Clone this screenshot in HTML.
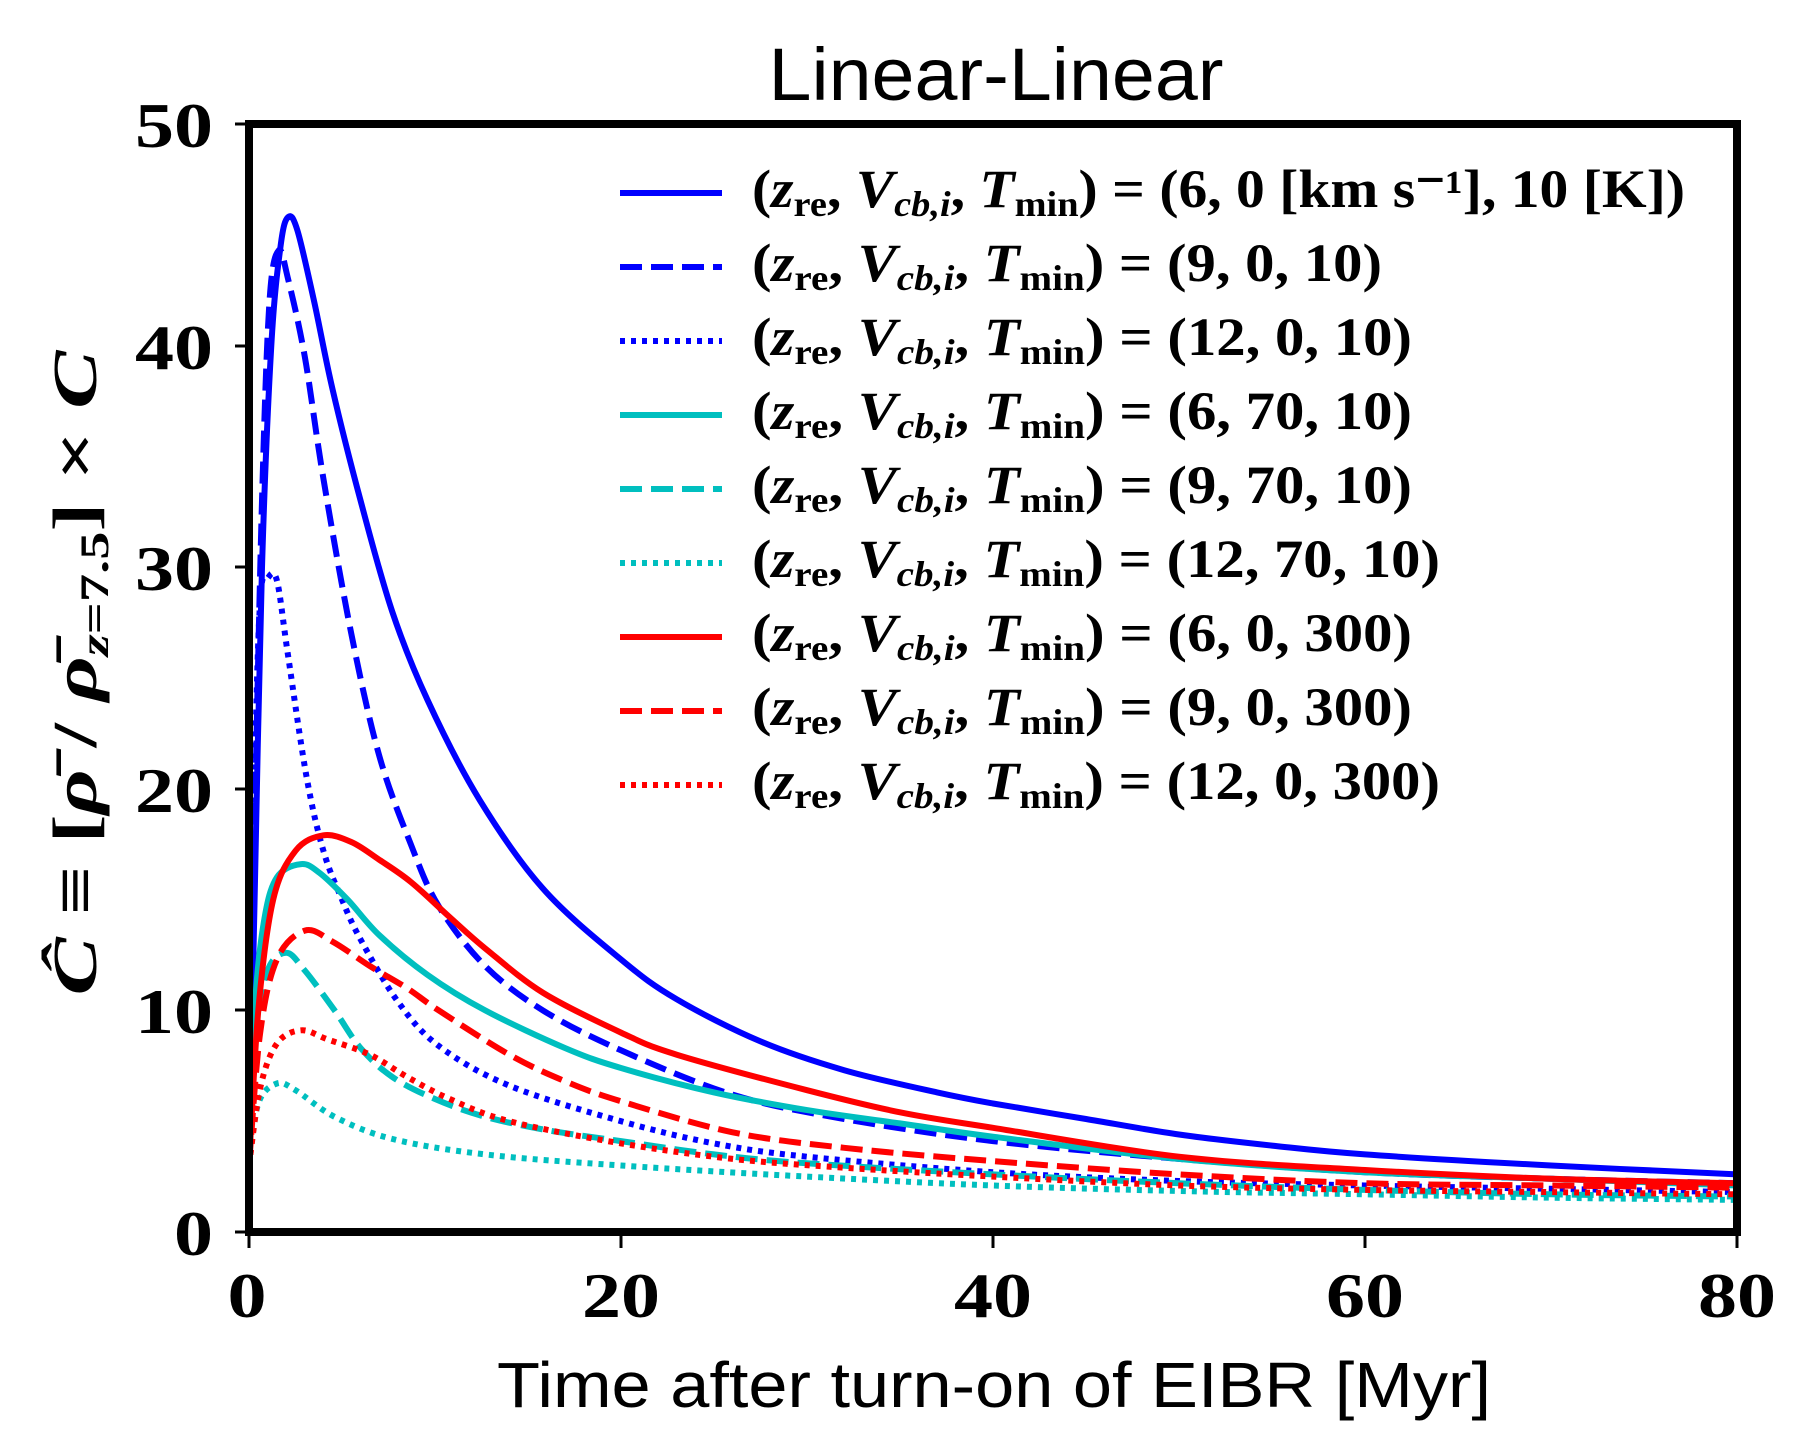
<!DOCTYPE html>
<html><head><meta charset="utf-8">
<style>
html,body{margin:0;padding:0;background:#fff;}
svg{display:block;}
.tk{font-family:"Liberation Serif",serif;font-weight:bold;font-size:64px;}
.lg{font-family:"Liberation Serif",serif;font-size:54px;font-weight:bold;}
.it{font-style:italic;}
</style></head>
<body>
<svg id="s" width="1808" height="1456" viewBox="0 0 1808 1456" xmlns="http://www.w3.org/2000/svg">
<rect width="1808" height="1456" fill="#fff"/>
<g id="curves" fill="none" stroke-width="6" stroke-linejoin="round"></g>
<g id="legend"></g>
<rect x="249" y="124" width="1488" height="1108" fill="none" stroke="#000" stroke-width="8"/>
<g stroke="#000" stroke-width="3">
<line x1="235" y1="1232" x2="249" y2="1232"/><line x1="235" y1="1010" x2="249" y2="1010"/>
<line x1="235" y1="789" x2="249" y2="789"/><line x1="235" y1="567" x2="249" y2="567"/>
<line x1="235" y1="346" x2="249" y2="346"/><line x1="235" y1="124" x2="249" y2="124"/>
<line x1="249" y1="1232" x2="249" y2="1248"/><line x1="621" y1="1232" x2="621" y2="1248"/>
<line x1="993" y1="1232" x2="993" y2="1248"/><line x1="1365" y1="1232" x2="1365" y2="1248"/>
<line x1="1737" y1="1232" x2="1737" y2="1248"/>
</g>
<g class="tk" text-anchor="end">
<text x="213" y="1255" textLength="39" lengthAdjust="spacingAndGlyphs">0</text>
<text x="213" y="1033" textLength="78" lengthAdjust="spacingAndGlyphs">10</text>
<text x="213" y="812" textLength="78" lengthAdjust="spacingAndGlyphs">20</text>
<text x="213" y="590" textLength="78" lengthAdjust="spacingAndGlyphs">30</text>
<text x="213" y="369" textLength="78" lengthAdjust="spacingAndGlyphs">40</text>
<text x="213" y="147" textLength="78" lengthAdjust="spacingAndGlyphs">50</text>
</g>
<g class="tk" text-anchor="middle">
<text x="247" y="1317" textLength="39" lengthAdjust="spacingAndGlyphs">0</text>
<text x="621" y="1317" textLength="78" lengthAdjust="spacingAndGlyphs">20</text>
<text x="993" y="1317" textLength="78" lengthAdjust="spacingAndGlyphs">40</text>
<text x="1365" y="1317" textLength="78" lengthAdjust="spacingAndGlyphs">60</text>
<text x="1737" y="1317" textLength="78" lengthAdjust="spacingAndGlyphs">80</text>
</g>
<text x="996" y="100" text-anchor="middle" font-family="Liberation Sans, sans-serif" font-size="74" textLength="455" lengthAdjust="spacingAndGlyphs">Linear-Linear</text>
<text x="994" y="1407" text-anchor="middle" font-family="Liberation Sans, sans-serif" font-size="64" textLength="994" lengthAdjust="spacingAndGlyphs">Time after turn-on of EIBR [Myr]</text>
<text transform="translate(96,673) rotate(-90)" text-anchor="middle" font-family="Liberation Serif, serif" font-weight="bold" font-size="62" textLength="645" lengthAdjust="spacingAndGlyphs"><tspan font-style="italic">Ĉ</tspan> ≡ [<tspan font-style="italic">ρ̄</tspan> / <tspan font-style="italic">ρ̄</tspan><tspan font-size="40" dy="12" font-style="italic">z</tspan><tspan font-size="40">=7.5</tspan><tspan dy="-12">] × </tspan><tspan font-style="italic">C</tspan></text>
</svg>
<script>
var X=function(t){return 249+t*18.6},Y=function(v){return 1232-v*22.16};
var B="#0000ff",C="#00bfbf",R="#ff0000";
var dash={s:"",d:"22 9",o:"5 6"};
var S=[
[B,"s",[[0,3],[0.3,15],[0.7,30],[1.2,40],[1.7,44.5],[2.1,45.8],[2.6,45.2],[3.5,42],[4.5,38],[6,33],[7.7,28],[9.6,24],[12.4,19.5],[15.8,15.5],[20,12.3],[23,10.5],[27.5,8.6],[32,7.3],[37,6.3],[40,5.8],[45,5.1],[50,4.4],[55,3.9],[60,3.5],[70,3.0],[80,2.6]]],
[B,"d",[[0,3],[0.3,18],[0.7,33],[1.1,42],[1.6,44.3],[2.1,43],[3,39.5],[4,34],[5.5,27],[7,21.5],[8.7,17.5],[10.2,14.7],[12.7,12],[15.8,10],[20,8.2],[26,6.2],[32,5.1],[40,4.1],[50,3.3],[60,2.7],[70,2.4],[80,2.2]]],
[B,"o",[[0,3],[0.3,20],[0.6,28.5],[1.0,29.5],[1.5,29.4],[2.1,26],[3.1,20.5],[4,17.2],[5,15],[6,13.2],[8,10.4],[10.2,8.4],[14,6.6],[20,5.0],[25,4.0],[30,3.4],[40,2.7],[50,2.3],[60,2.1],[70,1.95],[80,1.8]]],
[C,"s",[[0,3],[0.3,10],[0.8,14],[1.5,16],[2.8,16.6],[3.8,16.2],[5.3,15],[7,13.4],[9.6,11.6],[12.7,10],[17,8.3],[20,7.4],[25,6.3],[30,5.5],[35,4.9],[40,4.3],[50,3.3],[60,2.7],[70,2.4],[80,2.1]]],
[C,"d",[[0,3],[0.4,9],[1,11.8],[2,12.6],[3,11.8],[4.6,10],[6,8.3],[7.7,7],[10,6],[12.7,5.2],[16,4.6],[20,4.1],[25,3.5],[30,3.1],[40,2.6],[50,2.2],[60,1.9],[70,1.7],[80,1.6]]],
[C,"o",[[0,3],[0.5,5.8],[1.5,6.7],[2.5,6.4],[4.6,5.2],[7.7,4.2],[12.7,3.5],[20,3.0],[30,2.5],[40,2.1],[50,1.85],[60,1.7],[70,1.55],[80,1.45]]],
[R,"s",[[0,3],[0.5,10],[1.3,15],[2.5,17.2],[4,17.9],[5.5,17.6],[7,16.8],[8.7,15.8],[10.8,14.2],[12.7,12.8],[15.8,10.8],[20,9],[23,8],[30,6.4],[35,5.4],[40,4.7],[50,3.4],[60,2.8],[70,2.4],[80,2.2]]],
[R,"d",[[0,3],[0.6,9],[1.5,12.3],[3,13.6],[4.5,13.1],[6.5,12],[8.5,11],[10.2,10],[14,8],[17,6.8],[20,5.9],[26,4.5],[32,3.8],[40,3.2],[50,2.6],[60,2.2],[70,2.1],[80,2.0]]],
[R,"o",[[0,3],[0.6,6.5],[1.5,8.5],[2.8,9.1],[4.2,8.7],[6.5,8],[8.5,7],[10.8,6],[14,5],[20,4],[26,3.3],[32,2.9],[40,2.5],[50,2.1],[60,1.9],[70,1.8],[80,1.7]]]
];
function path(p){var q=p.map(function(a){return [X(a[0]),Y(a[1])]});var d="M"+q[0][0].toFixed(1)+" "+q[0][1].toFixed(1);
for(var i=0;i<q.length-1;i++){var p0=q[i-1]||q[i],p1=q[i],p2=q[i+1],p3=q[i+2]||q[i+1];
var c1=[p1[0]+(p2[0]-p0[0])/6,p1[1]+(p2[1]-p0[1])/6],c2=[p2[0]-(p3[0]-p1[0])/6,p2[1]-(p3[1]-p1[1])/6];
d+=" C"+c1[0].toFixed(1)+" "+c1[1].toFixed(1)+" "+c2[0].toFixed(1)+" "+c2[1].toFixed(1)+" "+p2[0].toFixed(1)+" "+p2[1].toFixed(1);}
return d;}
var ns="http://www.w3.org/2000/svg",g=document.getElementById("curves"),lg=document.getElementById("legend");
S.forEach(function(s){var e=document.createElementNS(ns,"path");e.setAttribute("d",path(s[2]));e.setAttribute("stroke",s[0]);
if(dash[s[1]])e.setAttribute("stroke-dasharray",dash[s[1]]);g.appendChild(e);});
var labels=["(6, 0 [km s⁻¹], 10 [K])","(9, 0, 10)","(12, 0, 10)","(6, 70, 10)","(9, 70, 10)","(12, 70, 10)","(6, 0, 300)","(9, 0, 300)","(12, 0, 300)"];
var rowY=[193,267,341,415,489,563,637,711,785];
var lens=[933,630,660,660,660,688,660,660,688];
S.forEach(function(s,i){var y=rowY[i];
var l=document.createElementNS(ns,"line");l.setAttribute("x1",620);l.setAttribute("x2",722);l.setAttribute("y1",y);l.setAttribute("y2",y);
l.setAttribute("stroke",s[0]);l.setAttribute("stroke-width",6);if(dash[s[1]])l.setAttribute("stroke-dasharray",dash[s[1]]);lg.appendChild(l);
var t=document.createElementNS(ns,"text");t.setAttribute("class","lg");t.setAttribute("x",752);t.setAttribute("y",y+14);
t.setAttribute("textLength",lens[i]);t.setAttribute("lengthAdjust","spacingAndGlyphs");
t.innerHTML='(<tspan class="it">z</tspan><tspan font-size="36" dy="9">re</tspan><tspan dy="-9">, </tspan><tspan class="it">V</tspan><tspan font-size="36" dy="9" class="it">cb,i</tspan><tspan dy="-9">, </tspan><tspan class="it">T</tspan><tspan font-size="36" dy="9">min</tspan><tspan dy="-9">) = '+labels[i]+'</tspan>';
lg.appendChild(t);});
</script>
</body></html>
